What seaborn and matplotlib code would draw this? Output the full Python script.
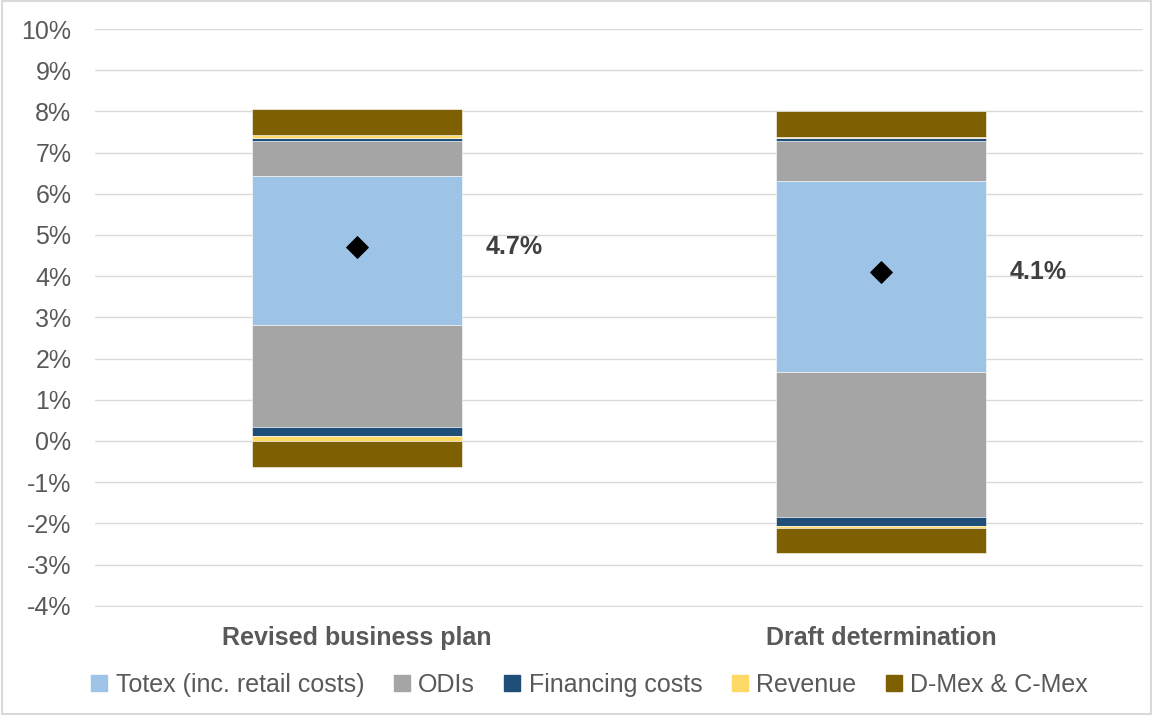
import matplotlib
matplotlib.use("Agg")
import matplotlib.pyplot as plt
import seaborn as sns
import numpy as np
from matplotlib.lines import Line2D
from matplotlib.patches import Rectangle
from matplotlib.ticker import FuncFormatter

# RoRE ranges (percentage points)
categories = ["Revised business plan", "Draft determination"]
base_rore = [4.7, 4.1]
totex_low = [2.82, 1.67]
totex_high = [6.43, 6.30]
odi_down = [2.49, 3.51]
odi_up = [0.86, 0.97]
fin_down = [0.22, 0.23]
fin_up = [0.07, 0.08]
rev_down = [0.11, 0.05]
rev_up = [0.07, 0.04]
mex_down = [0.64, 0.59]
mex_up = [0.63, 0.62]

series = ["Totex (inc. retail costs)", "ODIs", "Financing costs", "Revenue", "D-Mex & C-Mex"]
colors = ["#9DC3E6", "#A5A5A5", "#1F4E79", "#FFD966", "#7F6000"]

sns.set_style("white")
plt.rcParams["font.family"] = ["Liberation Sans", "DejaVu Sans"]

fig = plt.figure(figsize=(11.53, 7.15), dpi=100)
ax = fig.add_axes([95 / 1153, 1 - 607 / 715, 1048 / 1153, 578 / 715])
ax.set_axisbelow(True)
ax.yaxis.grid(True, color="#D9D9D9", linewidth=1.0)

bar_kw = dict(width=0.4, edgecolor="white", linewidth=0.4, saturation=1, ax=ax)

def draw(heights, bottoms, color):
    sns.barplot(x=categories, y=heights, bottom=bottoms, color=color, **bar_kw)

# totex block
draw(np.subtract(totex_high, totex_low), totex_low, colors[0])

# stack upwards from totex top, downwards from totex bottom
up_parts = [(odi_up, colors[1]), (fin_up, colors[2]), (rev_up, colors[3]), (mex_up, colors[4])]
down_parts = [(odi_down, colors[1]), (fin_down, colors[2]), (rev_down, colors[3]), (mex_down, colors[4])]

level = np.array(totex_high, dtype=float)
for vals, c in up_parts:
    draw(vals, level, c)
    level = level + np.array(vals)

level = np.array(totex_low, dtype=float)
for vals, c in down_parts:
    level = level - np.array(vals)
    draw(vals, level, c)

sns.scatterplot(x=[0, 1], y=base_rore, marker="D", s=120, color="black",
                edgecolor="black", zorder=5, ax=ax)
for i, v in enumerate(base_rore):
    ax.text(i + 0.245, v, f"{v:.1f}%", ha="left", va="center",
            fontsize=18, fontweight="bold", color="#404040")

ax.set_xlim(-0.5, 1.5)
ax.set_ylim(-4.03, 10)
ax.set_yticks(range(-4, 11))
ax.yaxis.set_major_formatter(FuncFormatter(lambda v, p: f"{v:.0f}%"))
ax.tick_params(axis="y", labelsize=18, labelcolor="#595959", length=0, pad=17)
ax.tick_params(axis="x", labelsize=18, labelcolor="#595959", length=0, pad=14)
for lab in ax.get_xticklabels():
    lab.set_fontweight("bold")
ax.set_xlabel("")
ax.set_ylabel("")
sns.despine(ax=ax, left=True, bottom=True)

handles = [Line2D([], [], marker="s", linestyle="", markersize=11,
                  markerfacecolor=c, markeredgecolor=c) for c in colors]
fig.legend(handles, series, loc="center", bbox_to_anchor=(0.512, 1 - 685 / 715),
           ncol=5, frameon=False, fontsize=18, handlelength=0.5, handletextpad=0.4,
           columnspacing=1.25, labelcolor="#595959")

fig.patches.append(Rectangle((0.002, 0.002), 0.996, 0.996, transform=fig.transFigure,
                             fill=False, edgecolor="#D9D9D9", linewidth=1.5))

fig.savefig("out.png", dpi=100)
